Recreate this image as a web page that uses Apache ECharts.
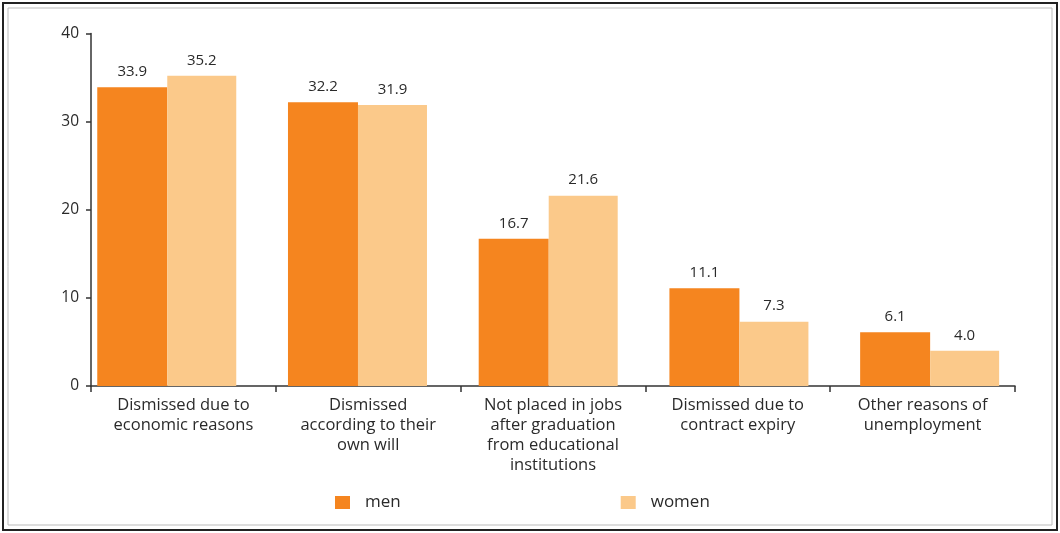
<!DOCTYPE html>
<html>
<head>
<meta charset="utf-8">
<script src="https://cdn.jsdelivr.net/npm/echarts@6/dist/echarts.min.js"></script>
<style>html,body{margin:0;padding:0;background:#fff}#c{width:1060px;height:533px}</style>
</head>
<body>
<div id="c"></div>
<script>
const categories = [
  "Dismissed due to\neconomic reasons",
  "Dismissed\naccording to their\nown will",
  "Not placed in jobs\nafter graduation\nfrom educational\ninstitutions",
  "Dismissed due to\ncontract expiry",
  "Other reasons of\nunemployment"
];
const men = [33.9, 32.2, 16.7, 11.1, 6.1];
const women = [35.2, 31.9, 21.6, 7.3, 4.0];
const seriesNames = ["men", "women"];
const yTicks = { min: 0, max: 40, interval: 10 };

const FONT = "Open Sans";
const TXT = "#2a2a2a";
const chart = echarts.init(document.getElementById('c'), null, { renderer: 'canvas' });
const labelCfg = {
  show: true, position: 'top', distance: 8,
  color: TXT, fontFamily: FONT, fontSize: 15,
  formatter: p => p.value.toFixed(1)
};
chart.setOption({
  backgroundColor: '#fff',
  animation: false,
  textStyle: { fontFamily: FONT },
  grid: [
    { left: 91, right: 45, top: 33.5, bottom: 147 },
    { left: 71.4, right: 35, top: 33.5, bottom: 147 }
  ],
  legend: {
    data: seriesNames,
    left: 330, top: 489,
    itemGap: 220, itemWidth: 15, itemHeight: 13,
    icon: 'rect',
    textStyle: { color: TXT, fontFamily: FONT, fontSize: 17, padding: [0, 0, 0, 10] }
  },
  xAxis: [
    {
      type: 'category', gridIndex: 0, data: categories,
      boundaryGap: true,
      axisLine: { lineStyle: { color: '#333', width: 1.5 } },
      axisTick: { show: true, alignWithLabel: false, length: 6, inside: false, lineStyle: { color: '#333', width: 1.5 } },
      axisLabel: { interval: 0, color: TXT, fontFamily: FONT, fontSize: 16.5, lineHeight: 20, margin: 9 }
    },
    {
      type: 'category', gridIndex: 1, data: categories, show: false
    }
  ],
  yAxis: [
    {
      type: 'value', gridIndex: 0, min: yTicks.min, max: yTicks.max, interval: yTicks.interval,
      axisLine: { show: true, lineStyle: { color: '#333', width: 1.5 } },
      axisTick: { show: true, length: 5, lineStyle: { color: '#333', width: 1.5 } },
      splitLine: { show: false },
      axisLabel: { color: TXT, fontFamily: FONT, fontSize: 15.5, margin: 12 }
    },
    {
      type: 'value', gridIndex: 1, min: yTicks.min, max: yTicks.max, interval: yTicks.interval, show: false,
      splitLine: { show: false }
    }
  ],
  series: [
    {
      name: seriesNames[0], type: 'bar', xAxisIndex: 1, yAxisIndex: 1,
      data: men, barWidth: 70, barGap: '0%',
      itemStyle: { color: '#F5851F' },
      label: labelCfg
    },
    {
      name: seriesNames[1], type: 'bar', xAxisIndex: 1, yAxisIndex: 1,
      data: women, barWidth: 69, barGap: '0%',
      itemStyle: { color: '#FBC98A' },
      label: labelCfg
    }
  ],
  graphic: [
    { type: 'rect', shape: { x: 3, y: 3, width: 1054, height: 527 }, style: { fill: null, stroke: '#222', lineWidth: 2 }, silent: true },
    { type: 'rect', shape: { x: 8, y: 8, width: 1044, height: 517 }, style: { fill: null, stroke: '#bbb', lineWidth: 1 }, silent: true }
  ]
});
</script>
</body>
</html>
